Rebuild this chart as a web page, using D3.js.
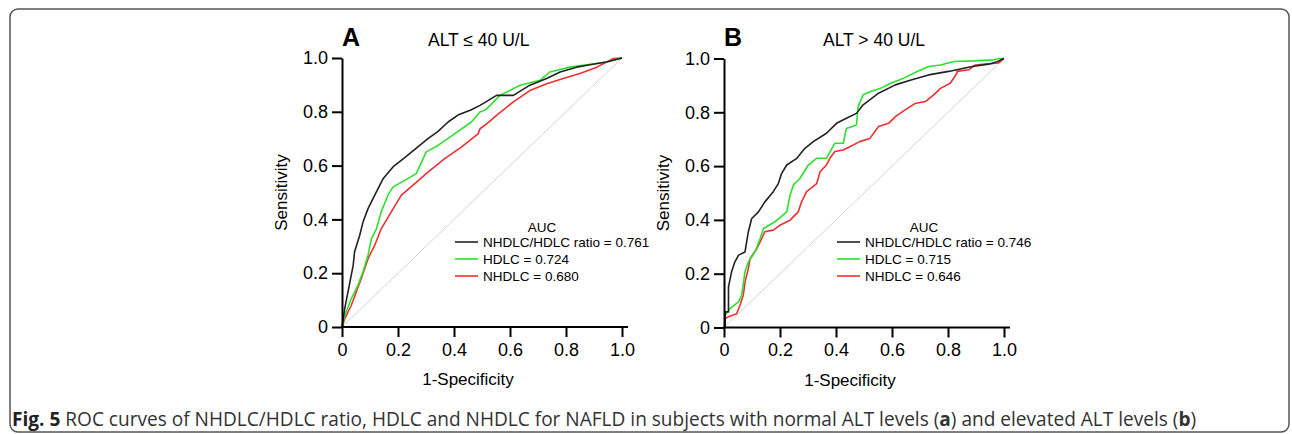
<!DOCTYPE html>
<html>
<head>
<meta charset="utf-8">
<script src="https://cdn.jsdelivr.net/npm/d3@7"></script>
<style>
  body { margin: 0; background: #fff; }
  svg { display: block; }
  text { font-family: "Liberation Sans", Arial, sans-serif; fill: #000; }
  .tick text { font-size: 18px; }
  .axis path, .axis line { stroke: #000; stroke-width: 2px; }
  .axis-label { font-size: 17px; }
  .legend text { font-size: 13.5px; }
</style>
</head>
<body>
<div id="chart"></div>
<script>
// ROC points [1-specificity, sensitivity]
// Panel A: ALT <= 40 U/L
const rocA_ratio = [[0,0],[0.01,0.07],[0.027,0.16],[0.04,0.23],[0.045,0.28],[0.063,0.34],[0.075,0.39],[0.093,0.44],
  [0.117,0.49],[0.146,0.55],[0.182,0.595],[0.224,0.63],[0.271,0.67],[0.307,0.70],[0.343,0.727],[0.379,0.762],
  [0.414,0.788],[0.46,0.807],[0.493,0.824],[0.514,0.837],[0.552,0.861],[0.612,0.861],[0.671,0.899],[0.731,0.924],
  [0.779,0.948],[0.838,0.966],[0.886,0.975],[0.945,0.985],[1,1]];
const rocA_hdlc = [[0,0],[0.01,0.043],[0.033,0.105],[0.057,0.155],[0.075,0.205],[0.093,0.267],[0.105,0.328],
  [0.123,0.365],[0.14,0.428],[0.164,0.49],[0.182,0.52],[0.224,0.545],[0.265,0.57],[0.301,0.651],[0.343,0.675],
  [0.402,0.718],[0.462,0.762],[0.493,0.799],[0.515,0.809],[0.564,0.861],[0.636,0.899],[0.707,0.917],[0.743,0.948],
  [0.814,0.966],[0.874,0.975],[0.945,0.985],[1,1]];
const rocA_nhdlc = [[0,0],[0.01,0.031],[0.033,0.08],[0.051,0.13],[0.069,0.18],[0.093,0.254],[0.117,0.304],
  [0.14,0.365],[0.176,0.428],[0.212,0.49],[0.26,0.533],[0.307,0.576],[0.367,0.626],[0.426,0.669],[0.486,0.718],
  [0.493,0.737],[0.521,0.759],[0.552,0.787],[0.612,0.837],[0.671,0.879],[0.731,0.904],[0.79,0.924],[0.85,0.942],
  [0.91,0.966],[0.969,0.998],[1,1]];

// Panel B: ALT > 40 U/L
const rocB_ratio = [[0,0],[0.004,0.008],[0.004,0.058],[0.016,0.058],[0.016,0.151],[0.027,0.207],[0.039,0.244],
  [0.052,0.269],[0.075,0.281],[0.087,0.356],[0.099,0.405],[0.123,0.43],[0.146,0.467],[0.176,0.505],[0.194,0.535],
  [0.206,0.573],[0.224,0.604],[0.26,0.629],[0.289,0.666],[0.319,0.691],[0.366,0.722],[0.402,0.759],[0.437,0.778],
  [0.473,0.796],[0.497,0.828],[0.552,0.871],[0.612,0.902],[0.671,0.921],[0.731,0.939],[0.802,0.952],[0.886,0.97],
  [0.945,0.979],[0.975,0.988],[1,1]];
const rocB_hdlc = [[0,0],[0.004,0.008],[0.004,0.045],[0.021,0.07],[0.052,0.095],[0.063,0.12],[0.075,0.207],
  [0.087,0.244],[0.111,0.281],[0.129,0.331],[0.141,0.368],[0.182,0.393],[0.224,0.43],[0.236,0.492],[0.248,0.53],
  [0.271,0.554],[0.301,0.604],[0.331,0.629],[0.366,0.629],[0.396,0.685],[0.426,0.685],[0.437,0.74],[0.473,0.753],
  [0.479,0.821],[0.497,0.865],[0.524,0.877],[0.559,0.889],[0.595,0.908],[0.642,0.927],[0.69,0.952],[0.731,0.97],
  [0.773,0.976],[0.821,0.989],[0.892,0.991],[0.963,0.995],[0.98,1],[1,1]];
const rocB_nhdlc = [[0,0],[0.004,0.008],[0.004,0.033],[0.016,0.04],[0.045,0.051],[0.057,0.083],[0.069,0.12],
  [0.075,0.169],[0.087,0.219],[0.093,0.256],[0.117,0.293],[0.129,0.318],[0.146,0.356],[0.176,0.362],[0.199,0.38],
  [0.236,0.399],[0.265,0.43],[0.277,0.467],[0.295,0.505],[0.331,0.535],[0.343,0.579],[0.366,0.604],[0.378,0.629],
  [0.396,0.654],[0.426,0.66],[0.449,0.672],[0.485,0.691],[0.521,0.703],[0.552,0.747],[0.588,0.759],[0.612,0.784],
  [0.647,0.809],[0.683,0.833],[0.719,0.84],[0.749,0.865],[0.773,0.889],[0.808,0.908],[0.832,0.945],[0.832,0.952],
  [0.874,0.958],[0.898,0.976],[0.933,0.979],[0.98,0.983],[1,1]];

const seriesNames = ["NHDLC/HDLC ratio", "HDLC", "NHDLC"];
const seriesColors = ["#222222", "#2ee02e", "#f03030"];
const aucA = ["0.761", "0.724", "0.680"];
const aucB = ["0.746", "0.715", "0.646"];
const tickValues = [0, 0.2, 0.4, 0.6, 0.8, 1.0];
const tickFmt = d => d === 0 ? "0" : d.toFixed(1);

const W = 1292, H = 434;
const svg = d3.select("#chart").append("svg")
  .attr("width", W).attr("height", H);

// frame
svg.append("rect")
  .attr("x", 10).attr("y", 9)
  .attr("width", 1279).attr("height", 423)
  .attr("rx", 8)
  .attr("fill", "none")
  .attr("stroke", "#555")
  .attr("stroke-width", 1.5);

function drawPanel(opt) {
  const x = d3.scaleLinear().domain([0, 1]).range([opt.left, opt.left + 280]);
  const y = d3.scaleLinear().domain([0, 1]).range([opt.bottom, opt.bottom - 269]);
  const g = svg.append("g");

  // reference diagonal
  g.append("line")
    .attr("x1", x(0)).attr("y1", y(0))
    .attr("x2", x(1)).attr("y2", y(1))
    .attr("stroke", "#d4d4d4").attr("stroke-width", 1);

  const line = d3.line().x(d => x(d[0])).y(d => y(d[1]));
  // draw in reverse so black sits on top
  [2, 1, 0].forEach(i => {
    g.append("path")
      .datum(opt.curves[i])
      .attr("fill", "none")
      .attr("stroke", seriesColors[i])
      .attr("stroke-width", 1.6)
      .attr("stroke-linejoin", "round")
      .attr("d", line);
  });

  // axes
  g.append("g")
    .attr("class", "axis")
    .attr("transform", `translate(0,${opt.bottom})`)
    .call(d3.axisBottom(x).tickValues(tickValues).tickFormat(tickFmt).tickSize(10).tickSizeOuter(0).tickPadding(6))
    .call(a => a.select(".domain").attr("d", `M${x(0)},0H${x(1) + 6}`));

  g.append("g")
    .attr("class", "axis")
    .attr("transform", `translate(${opt.left},0)`)
    .call(d3.axisLeft(y).tickValues(tickValues).tickFormat(tickFmt).tickSize(10).tickSizeOuter(0).tickPadding(4));

  g.selectAll(".tick text").attr("fill", "#000");

  // axis labels
  g.append("text")
    .attr("class", "axis-label")
    .attr("x", x(0.45)).attr("y", opt.bottom + 58)
    .attr("text-anchor", "middle")
    .text("1-Specificity");

  g.append("text")
    .attr("class", "axis-label")
    .attr("transform", "rotate(-90)")
    .attr("x", -(opt.bottom - 134.5)).attr("y", opt.left - 55)
    .attr("text-anchor", "middle")
    .text("Sensitivity");

  // panel letter and title
  g.append("text")
    .attr("x", opt.left).attr("y", 46)
    .attr("font-size", 25).attr("font-weight", "bold")
    .text(opt.letter);
  g.append("text")
    .attr("x", opt.titleX).attr("y", 46)
    .attr("font-size", 17.5)
    .text(opt.title);

  // legend
  const lg = g.append("g").attr("class", "legend")
    .attr("transform", `translate(${opt.legendX},0)`);
  lg.append("text")
    .attr("x", 87).attr("y", 231.5)
    .attr("text-anchor", "middle")
    .text("AUC");
  seriesNames.forEach((name, i) => {
    const yy = 242 + i * 17;
    lg.append("line")
      .attr("x1", 0).attr("x2", 23)
      .attr("y1", yy).attr("y2", yy)
      .attr("stroke", seriesColors[i]).attr("stroke-width", 1.6);
    lg.append("text")
      .attr("x", 28).attr("y", yy + 4.8)
      .text(`${name} = ${opt.auc[i]}`);
  });
}

drawPanel({ left: 342, bottom: 327, letter: "A", title: "ALT \u2264 40 U/L", titleX: 428,
  curves: [rocA_ratio, rocA_hdlc, rocA_nhdlc], auc: aucA, legendX: 455 });
drawPanel({ left: 724, bottom: 327.5, letter: "B", title: "ALT > 40 U/L", titleX: 823,
  curves: [rocB_ratio, rocB_hdlc, rocB_nhdlc], auc: aucB, legendX: 837 });

// caption
const cap = svg.append("text")
  .attr("x", 12).attr("y", 426)
  .attr("font-size", 16)
  .style("font-family", "'Open Sans', sans-serif")
  .style("fill", "#333");
cap.append("tspan").attr("font-weight", "bold").style("fill", "#222").text("Fig. 5");
cap.append("tspan").text(" ROC curves of NHDLC/HDLC ratio, HDLC and NHDLC for NAFLD in subjects with normal ALT levels (");
cap.append("tspan").attr("font-weight", "bold").text("a");
cap.append("tspan").text(") and elevated ALT levels (");
cap.append("tspan").attr("font-weight", "bold").text("b");
cap.append("tspan").text(")");
// fit caption width to the figure
const capLen = cap.node().getComputedTextLength();
cap.attr("font-size", 16 * 1185 / capLen);
</script>
</body>
</html>
